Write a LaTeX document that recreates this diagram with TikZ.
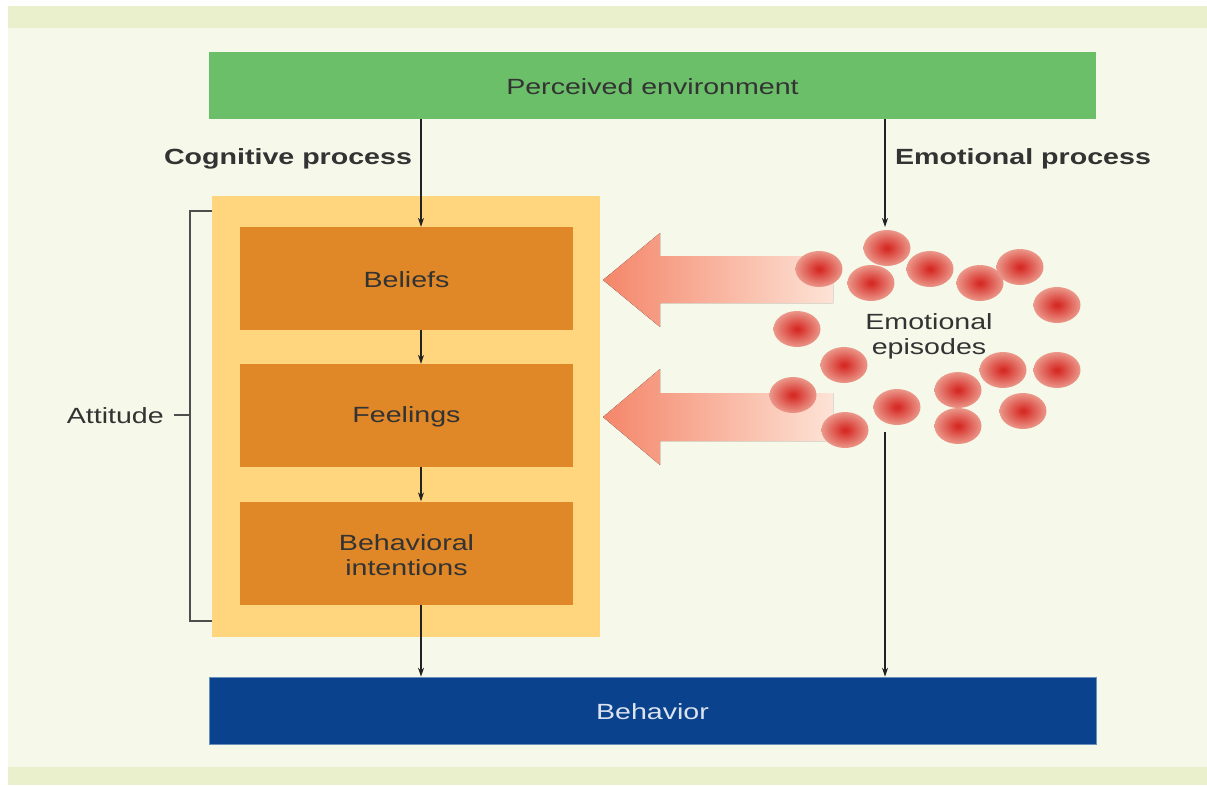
\documentclass[tikz,border=0pt]{standalone}
\usepackage{fontspec}
\setmainfont[FakeStretch=1.3]{Liberation Sans}
\usetikzlibrary{arrows.meta,calc}
\definecolor{bandc}{HTML}{EAF0CB}
\definecolor{panelc}{HTML}{F6F9EA}
\definecolor{greenc}{HTML}{6BBF69}
\definecolor{yellowc}{HTML}{FFD67E}
\definecolor{orangec}{HTML}{E08727}
\definecolor{bluec}{HTML}{0A428E}
\definecolor{txtc}{HTML}{333333}
\definecolor{linec}{HTML}{222222}
\definecolor{arrL}{HTML}{F4866A}
\definecolor{arrR}{HTML}{FDE3D6}
\definecolor{dotc}{HTML}{D62C26}
\definecolor{dote}{HTML}{F4C6B6}
\pgfdeclareradialshading{dotshade}{\pgfpointorigin}{color(0bp)=(dotc); color(2bp)=(dotc); color(35bp)=(dote); color(50bp)=(dote)}
\tikzset{
  lbl/.style={text=txtc, font=\fontsize{22}{25}\selectfont, align=center, inner sep=0pt},
  boldlbl/.style={text=txtc, font=\fontsize{22}{25}\selectfont\bfseries, inner sep=0pt},
  wide/.style={minimum width=887pt, minimum height=67pt, inner sep=0pt},
  orangebox/.style={fill=orangec, minimum width=333pt, minimum height=103pt, inner sep=0pt, lbl},
  arr/.style={draw=linec, line width=1.2pt, -{Stealth[length=9pt,width=6pt]}},
  brk/.style={draw=linec!80, line width=1.2pt},
  bigarrow/.style={left color=arrL, right color=arrR, draw=none},
  dot/.style={shading=dotshade}
}
\begin{document}
\begin{tikzpicture}[x=1pt,y=-1pt]
\useasboundingbox (0,0) rectangle (1207,785);
\fill[white] (0,0) rectangle (1207,785);
\fill[panelc] (8,28) rectangle (1207,767);
\fill[bandc] (8,6) rectangle (1207,28);
\fill[bandc] (8,767) rectangle (1207,785);

% top and bottom
\node[wide, fill=greenc] (env) at (652.5,85.5) {};
\node[lbl] (envt) at (652.5,87) {Perceived environment};
\node[wide, fill=bluec, draw=bluec!60!white, line width=0.6pt] (beh) at (652.5,710.5) {};
\node[lbl, text=white!85!bluec] (beht) at (652.5,711.5) {Behavior};

% labels
\node[boldlbl] (cog) at (288,158.5) {Cognitive process};
\node[boldlbl] (emo) at (1023,158.5) {Emotional process};

% attitude container
\node[fill=yellowc, minimum width=388pt, minimum height=441pt, inner sep=0pt] (att) at (406,416.5) {};
\node[orangebox] (bel) at (406.5,278.5) {};
\node[lbl] (belt) at (406.5,279.5) {Beliefs};
\node[orangebox] (fee) at (406.5,415.5) {};
\node[lbl] (feet) at (406.5,416.5) {Feelings};
\node[orangebox] (bint) at (406.5,553) {};
\node[lbl] (bintt) at (406.5,555.5) {Behavioral\\intentions};

% bracket
\coordinate (bt) at (190,211);
\coordinate (bb) at (190,621);
\coordinate (bm) at (190,415);
\draw[brk] (bt -| att.west) -- (bt) -- (bb) -- (bb -| att.west);
\node[lbl, anchor=east] (attl) at (164,416) {Attitude};
\draw[brk] ($(attl.east)+(10,-1)$) -- (bm);

% cognitive arrows
\coordinate (cx) at (421,0);
\draw[arr] (env.south -| cx) -- (bel.north -| cx);
\draw[arr] (bel.south -| cx) -- (fee.north -| cx);
\draw[arr] (fee.south -| cx) -- (bint.north -| cx);
\draw[arr] (bint.south -| cx) -- (beh.north -| cx);

% emotional arrows
\coordinate (ex) at (885,0);
\coordinate (etop) at (885,227);
\coordinate (ebot) at (885,432);
\draw[arr] (env.south -| ex) -- (etop);
\draw[arr] (ebot) -- (beh.north -| ex);

% big arrows
\fill[bigarrow] (603,280) -- (660,233) -- (660,256) -- (833,256) -- (833,303) -- (660,303) -- (660,327) -- cycle;
\fill[bigarrow] (603,417) -- (660,369) -- (660,393) -- (833,393) -- (833,441) -- (660,441) -- (660,465) -- cycle;

% dots
\foreach \px/\py in {887/248, 819/269, 871/283, 930/269, 980/283, 1020/267, 1057/305, 797/329, 844/365, 793/395, 897/407, 845/430, 958/390, 1003/370, 1057/370, 958/426, 1023/411}{
  \shade[dot] (\px,\py) ellipse [x radius=23.5pt, y radius=18pt];
}

\node[lbl] (epi) at (929,336) {Emotional\\episodes};
\end{tikzpicture}
\end{document}
